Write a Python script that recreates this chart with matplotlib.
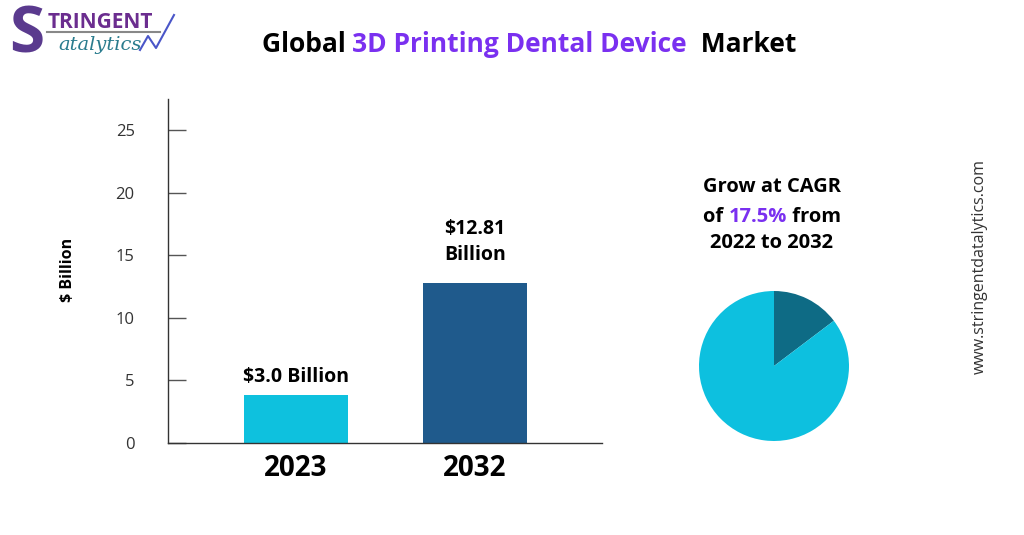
import matplotlib.pyplot as plt
from matplotlib.lines import Line2D

# data
years = ["2023", "2032"]
market_size = [3.8, 12.81]
bar_labels = ["$3.0 Billion", "$12.81\nBillion"]
yticks = [0, 5, 10, 15, 20, 25]
pie_share = [14.7, 85.3]
cagr = "17.5%"

W, H = 1024, 535
BAR_COLORS = ["#0EC1DE", "#1F5A8C"]
PIE_COLORS = ["#0E6B85", "#0DC0DF"]
PURPLE = "#7A30F0"
FONT = "Open Sans"

plt.rcParams["font.family"] = [FONT, "DejaVu Sans"]

fig = plt.figure(figsize=(W / 100, H / 100), dpi=100)
fig.patch.set_facecolor("white")


def fx(px):
    return px / W


def fy(py):
    return 1 - py / H


# overlay for free text
ov = fig.add_axes([0, 0, 1, 1])
ov.set_xlim(0, 1)
ov.set_ylim(0, 1)
ov.axis("off")


def rich_line(parts, xc, y, size):
    # parts: list of (text, color); centred at xc (fig fraction)
    first = ov.text(0, y, parts[0][0], color=parts[0][1], fontsize=size,
                    fontweight="bold", ha="left", va="bottom")
    prev = first
    arts = [first]
    for s, c in parts[1:]:
        prev = ov.annotate(s, xy=(1, 0), xycoords=prev, color=c, fontsize=size,
                           fontweight="bold", ha="left", va="bottom")
        arts.append(prev)
    fig.canvas.draw()
    r = fig.canvas.get_renderer()
    x0 = arts[0].get_window_extent(r).x0
    x1 = arts[-1].get_window_extent(r).x1
    width = (x1 - x0) / W
    first.set_x(xc - width / 2)


# title
rich_line([("Global ", "black"), ("3D Printing Dental Device", PURPLE),
           ("  Market", "black")], fx(529), fy(58), 19)

# logo (rough)
ov.text(fx(9), fy(36), "S", fontsize=46, fontweight="bold", color="#5A3A8E",
        ha="left", va="center")
ov.text(fx(48), fy(22), "TRINGENT", fontsize=15, fontweight="bold",
        color="#6B2D8F", ha="left", va="center")
ov.add_line(Line2D([fx(47), fx(160)], [fy(32), fy(32)], color="#888888", lw=1.5))
ov.text(fx(58), fy(45), "atalytics", fontsize=14, style="italic",
        family="DejaVu Serif", color="#2A7C8E", ha="left", va="center")
ov.add_line(Line2D([fx(140), fx(148), fx(156), fx(174)],
                   [fy(50), fy(36), fy(48), fy(15)], color="#4A56C8", lw=1.5))

# bar chart
ax = fig.add_axes([fx(168), fy(443), fx(602) - fx(168), fy(99) - fy(443)])
x = range(len(years))
ax.bar(x, market_size, width=0.58, color=BAR_COLORS)
ax.set_xlim(-0.715, 1.71)
ax.set_ylim(0, 27.5)
ax.set_yticks(yticks)
ax.set_xticks(list(x))
ax.set_xticklabels(years, fontsize=20, fontweight="bold")
ax.tick_params(axis="x", length=0, pad=8)
ax.tick_params(axis="y", direction="in", length=13, width=1, color="#555555",
               pad=24, labelsize=12, labelcolor="#333333")
for s in ["top", "right"]:
    ax.spines[s].set_visible(False)
for s in ["left", "bottom"]:
    ax.spines[s].set_color("#333333")
    ax.spines[s].set_linewidth(1)

for i, (v, lab) in enumerate(zip(market_size, bar_labels)):
    ax.annotate(lab, xy=(i, v), xytext=(0, 6 if i == 0 else 13),
                textcoords="offset points", ha="center", va="bottom",
                fontsize=14, fontweight="bold", linespacing=1.35)

fig.text(fx(68), fy(270), "$ Billion", rotation=90, fontsize=11.5,
         fontweight="bold", ha="center", va="center")

# CAGR text
ov.text(fx(772), fy(187), "Grow at CAGR", fontsize=14.5, fontweight="bold",
        ha="center", va="center")
rich_line([("of ", "black"), (cagr, PURPLE), (" from", "black")],
          fx(772), fy(227), 14.5)
ov.text(fx(772), fy(243), "2022 to 2032", fontsize=14.5, fontweight="bold",
        ha="center", va="center")

# pie
r = 75
pax = fig.add_axes([fx(774 - r), fy(366 + r), 2 * r / W, 2 * r / H])
pax.pie(pie_share, colors=PIE_COLORS, startangle=90, counterclock=False)
pax.set_xlim(-1, 1)
pax.set_ylim(-1, 1)
pax.set_aspect("equal")

# url
fig.text(fx(980), fy(267), "www.stringentdatalytics.com", rotation=90,
         fontsize=11.5, color="#333333", ha="center", va="center")

fig.savefig("out.png", dpi=100)
